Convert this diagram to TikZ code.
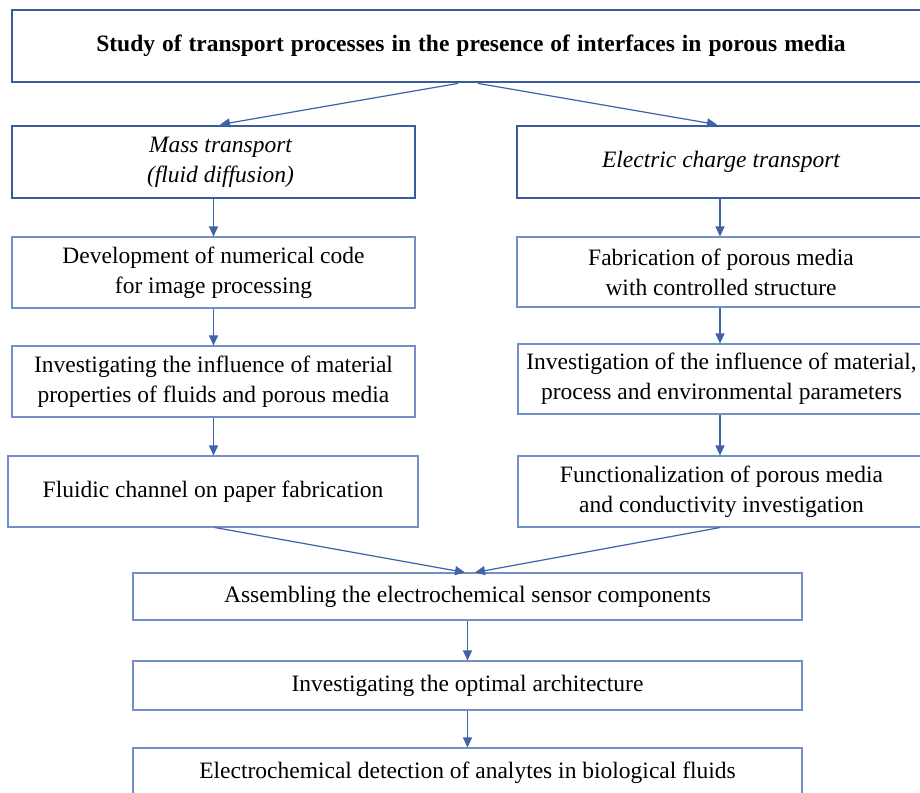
\documentclass[tikz,border=0pt]{standalone}
\usepackage{fontspec}
\setmainfont{Liberation Serif}
\usetikzlibrary{arrows.meta,calc}
\definecolor{thickblue}{HTML}{3A5C9C}
\definecolor{thinblue}{HTML}{7290C6}
\definecolor{arrowblue}{HTML}{3E63A8}
\tikzset{
  basebox/.style={rectangle, align=center, inner sep=2pt, text=black,
    font=\fontsize{23.5}{30}\selectfont},
  thickbox/.style={basebox, draw=thickblue, line width=2.8pt},
  thinbox/.style={basebox, draw=thinblue, line width=1.1pt},
  twoline/.style={text depth=-4pt},
  flow/.style={draw=arrowblue, line width=1.2pt, -{Triangle[length=10pt,width=9pt]}}
}
\begin{document}
\begin{tikzpicture}[x=1pt,y=-1pt]
\useasboundingbox (0,0) rectangle (920,792);
\clip (0,0) rectangle (920,792);
\fill[white] (0,0) rectangle (920,792);

\node[thickbox, minimum width=918pt, minimum height=72pt, font=\fontsize{23.5}{30}\selectfont\bfseries] (title) at (471,46)
  {\spaceskip=7pt\relax Study of transport processes in the presence of interfaces in porous media};

\node[thickbox, minimum width=403pt, minimum height=72pt] (mass) at (213.5,162)
  {\itshape\hspace*{14pt}Mass transport\\\itshape\hspace*{14pt}(fluid diffusion)};
\node[thickbox, minimum width=408pt, minimum height=72pt] (elec) at (721,162)
  {\itshape Electric charge transport};

\node[thinbox, minimum width=403pt, minimum height=71pt] (dev) at (213.5,272.5)
  {Development of numerical code\\for image processing};
\node[thinbox, minimum width=408pt, minimum height=70pt] (fab) at (721,272)
  {Fabrication of porous media\\with controlled structure};

\node[thinbox, minimum width=403pt, minimum height=71pt] (infl) at (213.5,381.5)
  {Investigating the influence of material\\properties of fluids and porous media};
\node[thinbox, minimum width=407pt, minimum height=70pt] (param) at (721.5,379)
  {Investigation of the influence of material,\\process and environmental parameters};

\node[thinbox, minimum width=410pt, minimum height=71pt] (chan) at (213,491.5)
  {Fluidic channel on paper fabrication};
\node[thinbox, minimum width=407pt, minimum height=71pt] (func) at (721.5,491.5)
  {Functionalization of porous media\\and conductivity investigation};

\node[thinbox, minimum width=669pt, minimum height=47pt] (asm) at (467.5,596.5)
  {Assembling the electrochemical sensor components};
\node[thinbox, minimum width=669pt, minimum height=49pt] (arch) at (467.5,685.5)
  {Investigating the optimal architecture};
\node[thinbox, minimum width=669pt, minimum height=49pt] (det) at (467.5,772.5)
  {Electrochemical detection of analytes in biological fluids};

\draw[flow] ([xshift=-13pt]title.south) -- ([xshift=6.5pt]mass.north);
\draw[flow] ([xshift=7pt]title.south) -- ([xshift=-4pt]elec.north);

\draw[flow] (mass.south) -- (mass.south |- dev.north);
\draw[flow] (dev.south) -- (dev.south |- infl.north);
\draw[flow] (infl.south) -- (infl.south |- chan.north);

\draw[flow] ([xshift=-1pt]elec.south) -- ([xshift=-1pt]elec.south |- fab.north);
\draw[flow] ([xshift=-1pt]fab.south) -- ([xshift=-1pt]fab.south |- param.north);
\draw[flow] ([xshift=-1.5pt]param.south) -- ([xshift=-1.5pt]param.south |- func.north);

\draw[flow] ([xshift=2pt]chan.south) -- ([xshift=-2.5pt]asm.north);
\draw[flow] ([xshift=-1.5pt]func.south) -- ([xshift=7.5pt]asm.north);

\draw[flow] (asm.south) -- (arch.north);
\draw[flow] (arch.south) -- (det.north);
\end{tikzpicture}
\end{document}
